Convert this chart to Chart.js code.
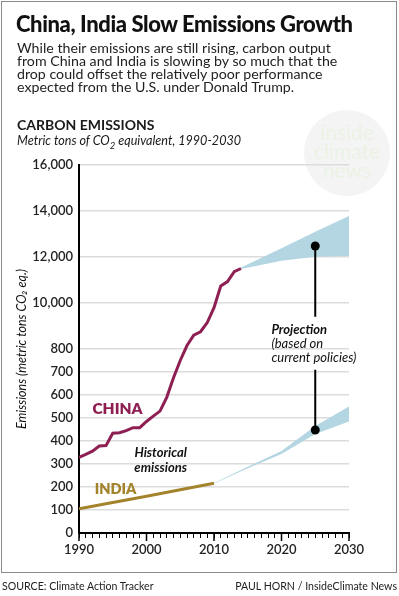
<!DOCTYPE html>
<html>
<head>
<meta charset="utf-8">
<script src="https://cdn.jsdelivr.net/npm/chart.js@4.4.1/dist/chart.umd.min.js"></script>
<style>
  body { margin: 0; background: #fff; font-family: Lato, sans-serif; color: #1a1a1a; }
  #wrap { position: relative; width: 399px; height: 596px; overflow: hidden; }
  #frame { position: absolute; left: 1px; top: 1px; width: 394px; height: 570px; border: 1.5px solid #8a8a8a; }
  canvas { position: absolute; left: 0; top: 0; }
  .t { position: absolute; white-space: nowrap; }
  #title { left: 16px; top: 11px; font-size: 22px; font-weight: 900; line-height: 26px; color: #111; letter-spacing: -0.4px; }
  #dek { left: 17px; top: 42px; font-size: 14.2px; line-height: 12.9px; color: #222; }
  #head { left: 17px; top: 117px; font-size: 14px; font-weight: 700; line-height: 16px; }
  #sub { left: 17px; top: 133px; font-size: 12.6px; font-style: italic; line-height: 16px; }
  #src { left: 2px; top: 578px; font-size: 10.6px; line-height: 16px; color: #222; }
  #credit { right: 2px; top: 578px; font-size: 10.6px; line-height: 16px; color: #222; }
</style>
</head>
<body>
<div id="wrap">
  <canvas id="mycanvas" width="399" height="596"></canvas>
  <div id="frame"></div>
  <div class="t" id="title">China, India Slow Emissions Growth</div>
  <div class="t" id="dek">While their emissions are still rising, carbon output<br>from China and India is slowing by so much that the<br>drop could offset the relatively poor performance<br>expected from the U.S. under Donald Trump.</div>
  <div class="t" id="head">CARBON EMISSIONS</div>
  <div class="t" id="sub">Metric tons of CO<sub style="font-size:9.5px">2</sub> equivalent, 1990-2030</div>
  <div class="t" id="src">SOURCE: Climate Action Tracker</div>
  <div class="t" id="credit">PAUL HORN / InsideClimate News</div>
</div>
<script>
// historical emissions (metric tons CO2 eq.)
var chinaYears = [1990,1991,1992,1993,1994,1995,1996,1997,1998,1999,2000,2001,2002,2003,2004,2005,2006,2007,2008,2009,2010,2011,2012,2013,2014];
var chinaValues = [3290,3420,3560,3780,3800,4340,4360,4450,4580,4580,4850,5080,5300,5900,6750,7500,8150,8600,8750,9150,9800,10740,10930,11360,11500];
var indiaYears = [1990,1995,2000,2005,2010];
var indiaValues = [1050,1330,1600,1880,2160];

// projection ranges
var chinaProjYears = [2014,2020,2025,2030];
var chinaProjLow = [11480,11840,12010,12040];
var chinaProjHigh = [11540,12380,13100,13780];
var indiaProjYears = [2010,2015,2020,2025,2030];
var indiaProjLow = [2150,2820,3440,4300,4850];
var indiaProjHigh = [2170,2880,3560,4650,5500];

// projection callout
var calloutYear = 2025;
var calloutTop = [12480,9400];
var calloutBottom = [7100,4480];

// y axis (the lower labels are printed as in the original)
var tickValues = [0,1000,2000,3000,4000,5000,6000,7000,8000,10000,12000,14000,16000];
var tickLabels = ['0','100','200','300','400','500','600','700','800','10,000','12,000','14,000','16,000'];

var chinaColor = '#8e1f52';
var indiaColor = '#a3832c';
var bandColor = '#b3d6e2';

function pts(xs, ys) {
  var out = [];
  for (var i in xs) out.push({x: xs[i], y: ys[i]});
  return out;
}

// text labels placed in data space
var notes = [
  {text: 'CHINA', x: 1995.7, y: 5370, font: '800 15.5px Lato', color: chinaColor, align: 'center'},
  {text: 'INDIA', x: 1995.4, y: 1910, font: '800 14.5px Lato', color: indiaColor, align: 'center'},
  {text: 'Historical', x: 2002.1, y: 3500, font: 'italic 700 13px Lato', color: '#111', align: 'center'},
  {text: 'emissions', x: 2002.1, y: 2850, font: 'italic 700 13px Lato', color: '#111', align: 'center'},
  {text: 'Projection', x: 2018.5, y: 8830, font: 'italic 700 13px Lato', color: '#111', align: 'left'},
  {text: '(based on', x: 2018.5, y: 8220, font: 'italic 13px Lato', color: '#111', align: 'left'},
  {text: 'current policies)', x: 2018.5, y: 7610, font: 'italic 13px Lato', color: '#111', align: 'left'}
];

var notesPlugin = {
  id: 'notes',
  beforeDraw: function(chart) {
    var c = chart.ctx;
    c.save();
    c.beginPath();
    c.arc(347, 153, 43, 0, Math.PI * 2);
    c.fillStyle = '#f4f4f4';
    c.fill();
    c.fillStyle = '#eaf2e4';
    c.font = '21px Lato';
    c.textAlign = 'center';
    c.textBaseline = 'middle';
    c.fillText('inside', 347, 133);
    c.fillText('climate', 347, 152);
    c.fillText('news', 347, 171);
    c.restore();
  },
  afterDraw: function(chart) {
    var c = chart.ctx, sx = chart.scales.x, sy = chart.scales.y;
    c.save();
    c.textBaseline = 'middle';
    notes.forEach(function(n) {
      c.font = n.font;
      c.fillStyle = n.color;
      c.textAlign = n.align;
      c.fillText(n.text, sx.getPixelForValue(n.x), sy.getPixelForValue(n.y));
    });
    // longer ticks on decades
    c.strokeStyle = '#000';
    c.lineWidth = 1.5;
    for (var yr = 1990; yr <= 2030; yr += 10) {
      var px = sx.getPixelForValue(yr);
      c.beginPath();
      c.moveTo(px, sy.bottom);
      c.lineTo(px, sy.bottom + 8);
      c.stroke();
    }
    c.restore();
  }
};

var ctx = document.getElementById('mycanvas');

var chart = new Chart(ctx, {
  type: 'line',
  data: {
    datasets: [
      {data: pts(chinaProjYears, chinaProjLow), borderWidth: 0, pointRadius: 0, fill: false, order: 3},
      {data: pts(chinaProjYears, chinaProjHigh), borderWidth: 0, pointRadius: 0, fill: '-1', backgroundColor: bandColor, order: 3},
      {data: pts(indiaProjYears, indiaProjLow), borderWidth: 0, pointRadius: 0, fill: false, order: 3},
      {data: pts(indiaProjYears, indiaProjHigh), borderWidth: 0, pointRadius: 0, fill: '-1', backgroundColor: bandColor, order: 3},
      {label: 'China', data: pts(chinaYears, chinaValues), borderColor: chinaColor, borderWidth: 3, pointRadius: 0, fill: false, order: 1},
      {label: 'India', data: pts(indiaYears, indiaValues), borderColor: indiaColor, borderWidth: 3, pointRadius: 0, fill: false, order: 1},
      {data: pts([calloutYear, calloutYear], calloutTop), borderColor: '#000', borderWidth: 2, pointRadius: [4.5, 0], pointBackgroundColor: '#000', pointBorderWidth: 0, fill: false, order: 0},
      {data: pts([calloutYear, calloutYear], calloutBottom), borderColor: '#000', borderWidth: 2, pointRadius: [0, 4.5], pointBackgroundColor: '#000', pointBorderWidth: 0, fill: false, order: 0}
    ]
  },
  options: {
    animation: false,
    responsive: false,
    layout: {padding: {left: 0, right: 50, top: 165, bottom: 0}},
    plugins: {legend: {display: false}, tooltip: {enabled: false}},
    scales: {
      x: {
        type: 'linear',
        min: 1990,
        max: 2030,
        afterFit: function(s) { s.height = 63; },
        grid: {drawOnChartArea: false, tickLength: 5, color: '#000', tickWidth: 1},
        border: {color: '#000', width: 2},
        ticks: {
          stepSize: 1,
          maxTicksLimit: 60,
          autoSkip: false,
          maxRotation: 0,
          padding: 4,
          color: '#222',
          font: {family: 'Lato', size: 13, weight: '600'},
          callback: function(v) { return v % 10 === 0 ? String(v) : ''; }
        }
      },
      y: {
        min: 0,
        max: 16000,
        afterFit: function(s) { s.width = 79; },
        afterBuildTicks: function(s) { s.ticks = tickValues.map(function(v) { return {value: v}; }); },
        grid: {drawTicks: false, color: '#dcdcdc', lineWidth: 1.5},
        border: {color: '#000', width: 2},
        ticks: {
          padding: 6,
          color: '#222',
          font: {family: 'Lato', size: 13, weight: '600'},
          callback: function(v, i) { return tickLabels[i]; }
        },
        title: {
          display: true,
          text: 'Emissions (metric tons CO\u2082 eq.)',
          color: '#111',
          font: {family: 'Lato', size: 12.5, style: 'italic'},
          padding: {top: 14, bottom: 0}
        }
      }
    }
  },
  plugins: [notesPlugin]
});
</script>
</body>
</html>
